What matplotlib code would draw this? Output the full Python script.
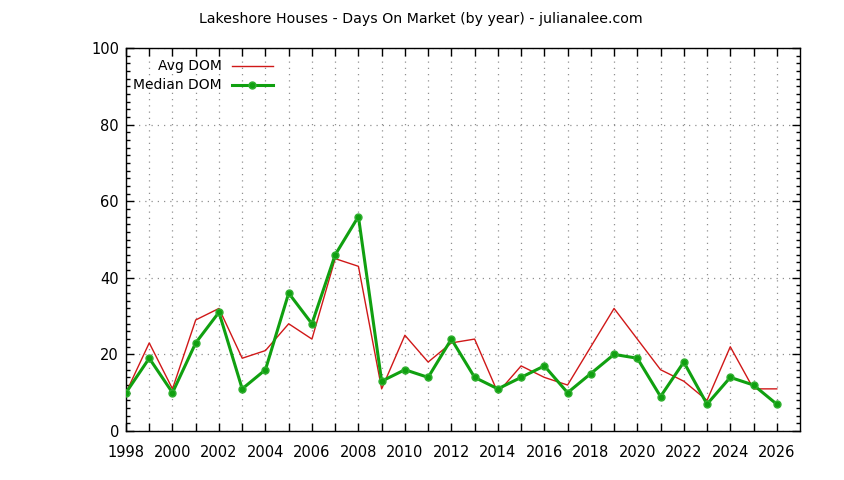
import matplotlib
matplotlib.use("Agg")
import matplotlib.pyplot as plt
from matplotlib.lines import Line2D
from matplotlib.ticker import MultipleLocator, FixedLocator, FixedFormatter

years = list(range(1998, 2027))
avg_dom = [10, 23, 11, 29, 32, 19, 21, 28, 24, 45, 43, 11, 25, 18, 23, 24,
           10, 17, 14, 12, 22, 32, 24, 16, 13, 8, 22, 11, 11]
median_dom = [10, 19, 10, 23, 31, 11, 16, 36, 28, 46, 56, 13, 16, 14, 24, 14,
              11, 14, 17, 10, 15, 20, 19, 9, 18, 7, 14, 12, 7]
title = "Lakeshore Houses - Days On Market (by year) - julianalee.com"
series_labels = ["Avg DOM", "Median DOM"]
xtick_years = list(range(1998, 2027))
ytick_values = [0, 20, 40, 60, 80, 100]

plt.rcParams['font.family'] = ['DejaVu Sans']
fig = plt.figure(figsize=(8.44, 4.8), dpi=100)
ax = fig.add_axes([126/844, 49/480, 674/844, 383/480])

red = '#d01818'
green = '#10a010'

ax.plot(years, avg_dom, color=red, lw=1.0, zorder=3)
ax.plot(years, median_dom, color=green, lw=2.2, marker='o', ms=5,
        markerfacecolor=green, markeredgecolor='#30b030', mew=1.0, zorder=4)

ax.set_xlim(1998, 2027)
ax.set_ylim(0, 100)

ax.xaxis.set_major_locator(FixedLocator(xtick_years))
ax.xaxis.set_major_formatter(FixedFormatter([str(y) if y % 2 == 0 else '' for y in xtick_years]))
ax.yaxis.set_major_locator(FixedLocator(ytick_values))
ax.yaxis.set_minor_locator(MultipleLocator(2))

ax.tick_params(axis='both', which='major', direction='in', length=6, width=1,
               top=True, right=True, labelsize=10.5, colors='black')
ax.tick_params(axis='x', which='major', pad=10)
ax.tick_params(axis='y', which='major', pad=5)
ax.tick_params(axis='y', which='minor', direction='in', length=3, width=1,
               left=True, right=True)

ax.grid(True, which='major', color='#909090', linestyle=(0, (1, 4)), lw=0.9)
for s in ax.spines.values():
    s.set_linewidth(1.0)
    s.set_color('black')

fig.text(421/844, 1 - 19/480, title, ha='center', va='center', fontsize=10.2)

# gnuplot-style key (text right-aligned, sample to the right)
key_rows = [(series_labels[0], 0.953, dict(color=red, lw=1.0)),
            (series_labels[1], 0.903, dict(color=green, lw=2.2, marker='o', ms=5,
                                            markerfacecolor=green,
                                            markeredgecolor='#30b030',
                                            markevery=[1]))]
for label, yk, style in key_rows:
    ax.text(0.1424, yk, label, transform=ax.transAxes, ha='right', va='center',
            fontsize=10)
    ax.add_line(Line2D([0.1573, 0.1870, 0.218], [yk, yk, yk],
                       transform=ax.transAxes, **style))

fig.savefig("out.png", dpi=100)
